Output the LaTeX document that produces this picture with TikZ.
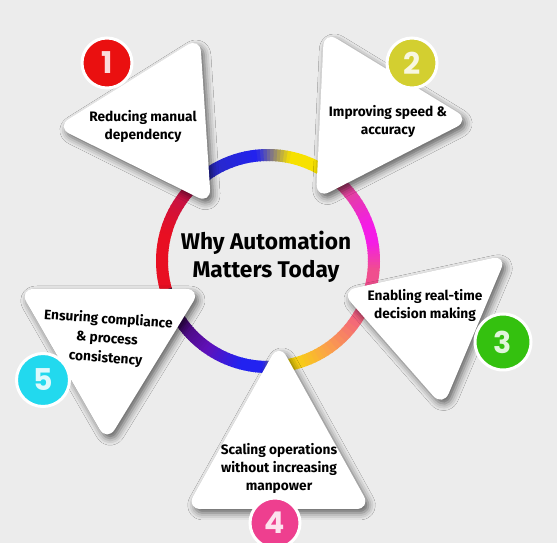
\documentclass[tikz,border=0pt]{standalone}
\usepackage{fontspec}
\setmainfont{Fira Sans}
\newfontfamily\numfont{Poppins}
\usetikzlibrary{shadows.blur}

\definecolor{bggray}{HTML}{ECECEC}
% ring colours
\definecolor{rdark}{HTML}{22001E}
\definecolor{rpurple}{HTML}{4A0A80}
\definecolor{rviolet}{HTML}{6010B8}
\definecolor{rblue}{HTML}{2222F0}
\definecolor{rbluedark}{HTML}{2A2AC0}
\definecolor{ryellow}{HTML}{F7E100}
\definecolor{rorange}{HTML}{FB9F4C}
\definecolor{rpink}{HTML}{F04E8E}
\definecolor{rmagenta}{HTML}{F41DE6}
\definecolor{rrose}{HTML}{DE4A8E}
\definecolor{rcrimson}{HTML}{C0124A}
\definecolor{rred}{HTML}{E80F22}
% number colours
\definecolor{numred}{HTML}{EA1010}
\definecolor{numolive}{HTML}{D3CF30}
\definecolor{numgreen}{HTML}{34C10F}
\definecolor{numpink}{HTML}{EE3F8F}
\definecolor{numcyan}{HTML}{22D9EE}

\begin{document}
\begin{tikzpicture}[x=1pt,y=1pt,
    ring/.style={line width=12pt},
    tri/.style={fill=white, rounded corners=15pt,
      blur shadow={shadow xshift=3pt, shadow yshift=-4pt, shadow blur radius=7pt, shadow opacity=60}},
    tritext/.style={align=center, text=black, font=\fontsize{13.7}{18}\selectfont\bfseries},
    numdot/.style={circle, draw=white, line width=3pt, minimum size=50pt, inner sep=0pt,
      font=\numfont\fontsize{30}{30}\selectfont\bfseries, text=white, text opacity=0.85}]

    % background
    \fill[bggray] (0,0) rectangle (557,543);
    \useasboundingbox (0,0) rectangle (557,543);
    \clip (0,0) rectangle (557,543);

    % ring
    \coordinate (ringc) at (268,282);
    \foreach \a/\b/\ca/\cb in {-165/-140/rdark/rpurple, -140/-125/rpurple/rviolet,
        -125/-105/rviolet/rblue, -105/-93/rblue/rblue, -93/-80/rblue/ryellow,
        -80/-55/ryellow/rorange, -55/-25/rorange/rpink, -25/-5/rpink/rpink,
        -5/10/rpink/rmagenta, 10/20/rmagenta/rmagenta, 20/45/rmagenta/rrose,
        45/58/rrose/ryellow, 58/78/ryellow/ryellow, 78/96/ryellow/rblue,
        96/125/rblue/rbluedark, 125/140/rbluedark/rcrimson, 140/165/rcrimson/rred,
        165/195/rred/rred}{
      \foreach \i in {0,...,9}{
        \pgfmathsetmacro{\sa}{\a+(\b-\a)*\i/10}
        \pgfmathsetmacro{\ea}{\a+(\b-\a)*(\i+1)/10+0.5}
        \pgfmathtruncatemacro{\pc}{10*\i+5}
        \draw[ring, draw=\cb!\pc!\ca] (ringc) ++(\sa:106) arc[start angle=\sa, end angle=\ea, radius=106];
      }
    }

    % title
    \node[align=center, font=\fontsize{22.7}{28}\selectfont\bfseries] (title) at (266,286) {Why Automation\\Matters Today};

    % triangles
    \fill[tri] (200,506) -- (56,416) -- (211,339) -- cycle;
    \fill[tri] (324,512) -- (470,423) -- (316,344) -- cycle;
    \fill[tri] (341,252) -- (507,288) -- (443,136) -- cycle;
    \fill[tri] (279,200) -- (186,34) -- (371,34) -- cycle;
    \fill[tri] (19,254) -- (201,254) -- (107,101) -- cycle;

    % texts
    \node[tritext] (t1) at (143,417) {Reducing manual\\dependency};
    \node[tritext] (t2) at (388,422) {Improving speed \&\\accuracy};
    \node[tritext] (t3) at (425,238) {Enabling real-time\\decision making};
    \node[tritext] (t4) at (279,75) {Scaling operations\\without increasing\\manpower};
    \node[tritext, rotate=-4, font=\fontsize{13.7}{19.5}\selectfont\bfseries] (t5) at (107,204) {Ensuring compliance\\\& process\\consistency};

    % numbers
    \node[numdot, fill=numred] (n1) at (107,480) {1};
    \node[numdot, fill=numolive] (n2) at (412,480) {2};
    \node[numdot, fill=numgreen, minimum size=56pt] (n3) at (503,201) {3};
    \node[numdot, fill=numpink] (n4) at (275,20) {4};
    \node[numdot, fill=numcyan, minimum size=53pt] (n5) at (43,163) {5};

\end{tikzpicture}
\end{document}
